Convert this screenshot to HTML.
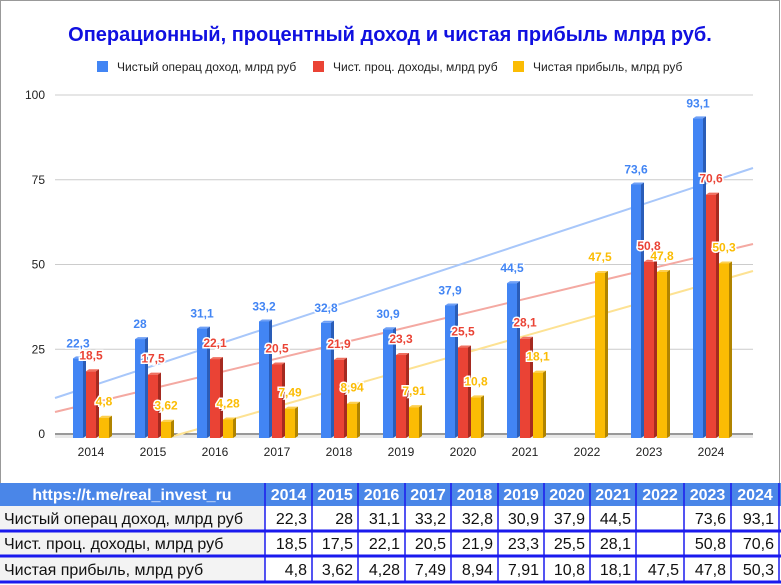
<!DOCTYPE html>
<html><head><meta charset="utf-8">
<style>
body{margin:0;background:#fff;font-family:"Liberation Sans","DejaVu Sans",sans-serif;}
#wrap{position:relative;width:781px;height:585px;overflow:hidden;}
</style></head><body>
<div id="wrap">
<svg id="s" width="781" height="585" xmlns="http://www.w3.org/2000/svg" font-family="Liberation Sans, DejaVu Sans, sans-serif"></svg>
</div>
<script>
const s=document.getElementById('s');
let h='';
h+='<rect x="0.5" y="0.5" width="779" height="484" fill="#fff" stroke="#999"/>';
h+='<text x="390" y="41" text-anchor="middle" font-size="20" font-weight="bold" fill="#1010e0">Операционный, процентный доход и чистая прибыль млрд руб.</text>';
const leg=[[97,'#4285f4','Чистый операц доход, млрд руб'],[313,'#ea4335','Чист. проц. доходы, млрд руб'],[513,'#fbbc04','Чистая прибыль, млрд руб']];
leg.forEach(l=>{h+=`<rect x="${l[0]}" y="61" width="11" height="11" fill="${l[1]}"/><text x="${l[0]+20}" y="71" font-size="12" fill="#222">${l[2]}</text>`;});
const Y=v=>434-v*3.39;
[0,25,50,75,100].forEach(v=>{h+=`<line x1="55" x2="753" y1="${Y(v)}" y2="${Y(v)}" stroke="${v?'#ccc':'#333'}" stroke-width="1"/><text x="45" y="${Y(v)+4}" text-anchor="end" font-size="12" fill="#222">${v}</text>`;});
h+='<rect x="55" y="435" width="698" height="3" fill="#e8e8e8"/>';
h+='<line x1="55" y1="398" x2="753" y2="168" stroke="#a8c7fa" stroke-width="2"/>';
h+='<line x1="55" y1="412" x2="753" y2="244" stroke="#f4a9a2" stroke-width="2"/>';
h+='<line x1="170" y1="437" x2="753" y2="271" stroke="#fde293" stroke-width="2"/>';
const yrs=[2014,2015,2016,2017,2018,2019,2020,2021,2022,2023,2024];
const d=[[22.3,28,31.1,33.2,32.8,30.9,37.9,44.5,null,73.6,93.1],[18.5,17.5,22.1,20.5,21.9,23.3,25.5,28.1,null,50.8,70.6],[4.8,3.62,4.28,7.49,8.94,7.91,10.8,18.1,47.5,47.8,50.3]];
const col=['#4285f4','#ea4335','#fbbc04'],dk=['#2a5db8','#a52a20','#b08400'],tp=['#6fa0f6','#f07060','#fdd050'];
let labels='';
yrs.forEach((yr,i)=>{
 const c=91+i*62;
 h+=`<text x="${c}" y="456" text-anchor="middle" font-size="12" fill="#222">${yr}</text>`;
 [0,1,2].forEach(k=>{
  const v=d[k][i]; if(v==null)return;
  const x=c-18+k*13, y=Y(v), w=10;
  h+=`<polygon points="${x},${y} ${x+3},${y-2} ${x+w+3},${y-2} ${x+w},${y}" fill="${tp[k]}"/>`;
  h+=`<polygon points="${x+w},${y} ${x+w+3},${y-2} ${x+w+3},436 ${x+w},438" fill="${dk[k]}"/>`;
  h+=`<rect x="${x}" y="${y}" width="${w}" height="${438-y}" fill="${col[k]}"/>`;
  const t=String(v).replace('.',',');
  let lx=x+5, ly=y-11;
  if(k==1){ly=y-12;} if(k==2){ly=y-12;}
  labels+=`<text x="${lx}" y="${ly}" text-anchor="middle" font-size="12" font-weight="bold" fill="${col[k]}" stroke="#fff" stroke-width="3" paint-order="stroke">${t}</text>`;
 });
});
h+=labels;
const cx=[0,265,312,358,405,451,498,544,590,636,684,731,779];
h+='<rect x="0" y="483" width="781" height="23" fill="#4a86e8"/>';
h+='<text x="132" y="500" text-anchor="middle" font-size="16" font-weight="bold" fill="#fff">https://t.me/real_invest_ru</text>';
yrs.forEach((yr,i)=>{h+=`<text x="${(cx[i+1]+cx[i+2])/2}" y="500" text-anchor="middle" font-size="16" font-weight="bold" fill="#fff">${yr}</text>`;});
const rows=[[506,530,'Чистый операц доход, млрд руб'],[532,555,'Чист. проц. доходы, млрд руб'],[557,581,'Чистая прибыль, млрд руб']];
rows.forEach((r,k)=>{
 h+=`<rect x="0" y="${r[0]}" width="265" height="${r[1]-r[0]}" fill="#f3f3f3"/>`;
 h+=`<text x="4" y="${r[1]-6}" font-size="16" fill="#111">${r[2]}</text>`;
 d[k].forEach((v,i)=>{if(v==null)return;h+=`<text x="${cx[i+2]-5}" y="${r[1]-6}" text-anchor="end" font-size="16" fill="#111">${String(v).replace('.',',')}</text>`;});
});
[531,556,582].forEach(y=>{h+=`<rect x="0" y="${y-1.5}" width="781" height="3" fill="#1a1aee"/>`;});
cx.slice(1).forEach(x=>{h+=`<line x1="${x}" x2="${x}" y1="483" y2="582" stroke="#1a1aee" stroke-width="1.5"/>`;});
s.innerHTML=h;
</script>
</body></html>
